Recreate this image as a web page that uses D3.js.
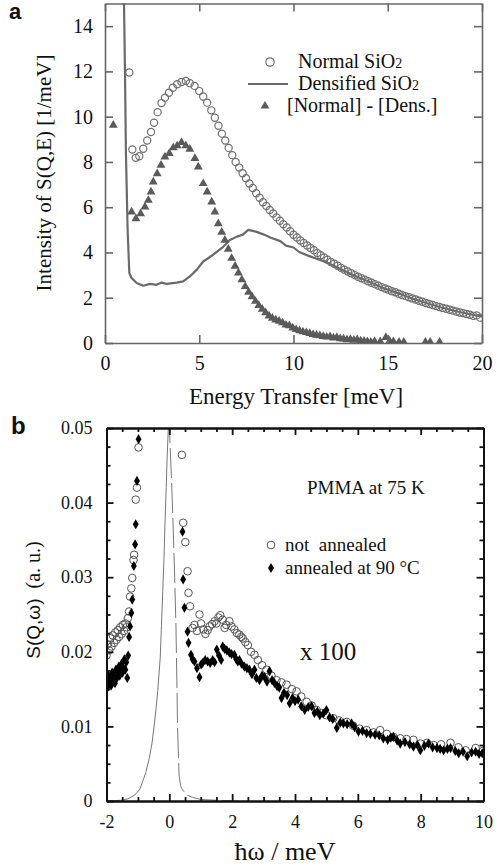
<!DOCTYPE html>
<html>
<head>
<meta charset="utf-8">
<script src="https://cdn.jsdelivr.net/npm/d3@7"></script>
<style>
  body { margin: 0; background: #fff; }
  svg text { font-family: "Liberation Serif", "Times New Roman", serif; fill: #111; }
</style>
</head>
<body>
<div id="chart"></div>
<script>
// ---- panel a : SiO2 ----
const aXTicks = [0, 5, 10, 15, 20];
const aYTicks = [0, 2, 4, 6, 8, 10, 12, 14];

const normalE = [1.29, 1.45, 1.63, 1.82, 2.03, 2.24, 2.44, 2.6, 2.79, 3.0, 3.18, 3.39, 3.6, 3.83, 4.06, 4.29, 4.5, 4.75, 5.0, 5.21, 5.42, 5.64, 5.83, 6.02, 6.2, 6.38, 6.56, 6.75, 6.93, 7.12, 7.3, 7.48, 7.66, 7.84, 8.02, 8.2, 8.38, 8.56, 8.74, 8.92, 9.1, 9.28, 9.46, 9.64, 9.82, 10.0, 10.18, 10.36, 10.54, 10.72, 10.9, 11.08, 11.26, 11.44, 11.62, 11.8, 11.98, 12.16, 12.34, 12.52, 12.7, 12.88, 13.06, 13.24, 13.42, 13.6, 13.78, 13.96, 14.14, 14.32, 14.5, 14.68, 14.86, 15.04, 15.22, 15.4, 15.58, 15.76, 15.94, 16.12, 16.3, 16.48, 16.66, 16.84, 17.02, 17.2, 17.38, 17.56, 17.74, 17.92, 18.1, 18.28, 18.46, 18.64, 18.82, 19.0, 19.18, 19.36, 19.54, 19.72, 19.9];
const normalS = [11.95, 8.55, 8.18, 8.25, 8.58, 8.95, 9.32, 9.73, 10.2, 10.6, 10.84, 11.06, 11.28, 11.43, 11.53, 11.58, 11.48, 11.36, 11.13, 10.89, 10.62, 10.28, 9.95, 9.6, 9.25, 8.95, 8.62, 8.3, 8.0, 7.75, 7.5, 7.28, 7.05, 6.85, 6.62, 6.42, 6.22, 6.05, 5.88, 5.72, 5.55, 5.4, 5.25, 5.1, 4.94, 4.78, 4.66, 4.53, 4.42, 4.31, 4.2, 4.1, 3.98, 3.88, 3.78, 3.68, 3.58, 3.5, 3.41, 3.32, 3.24, 3.16, 3.08, 3.0, 2.93, 2.86, 2.8, 2.73, 2.66, 2.6, 2.53, 2.47, 2.41, 2.35, 2.29, 2.24, 2.18, 2.12, 2.07, 2.02, 1.97, 1.92, 1.87, 1.82, 1.77, 1.72, 1.68, 1.63, 1.59, 1.55, 1.51, 1.47, 1.43, 1.39, 1.35, 1.32, 1.28, 1.25, 1.2, 1.22, 1.12];

const densE = [1.0, 1.06, 1.11, 1.2, 1.29, 1.41, 1.68, 2.03, 2.39, 2.74, 3.0, 3.27, 3.8, 4.15, 4.5, 4.86, 5.21, 5.74, 6.27, 6.63, 7.0, 7.3, 7.6, 8.0, 8.4, 8.8, 9.3, 9.6, 10.0, 10.3, 10.8, 11.3, 11.8, 12.3, 12.8, 13.3, 13.8, 14.3, 14.8, 15.3, 15.8, 16.3, 16.8, 17.3, 17.8, 18.3, 18.8, 19.3, 19.8, 20.0];
const densS = [15.5, 12.0, 8.4, 5.0, 3.09, 2.87, 2.65, 2.53, 2.61, 2.57, 2.67, 2.61, 2.67, 2.72, 2.94, 3.23, 3.6, 3.9, 4.25, 4.55, 4.7, 4.78, 5.0, 4.92, 4.8, 4.65, 4.5, 4.3, 4.22, 4.02, 3.85, 3.7, 3.55, 3.35, 3.15, 2.95, 2.78, 2.6, 2.42, 2.27, 2.12, 1.97, 1.83, 1.7, 1.58, 1.47, 1.37, 1.28, 1.2, 1.18];

const diffE = [0.44, 1.41, 1.64, 1.89, 2.12, 2.3, 2.44, 2.56, 2.77, 2.97, 3.18, 3.41, 3.62, 3.83, 4.06, 4.29, 4.5, 4.77, 4.95, 5.21, 5.42, 5.66, 5.83, 6.01, 6.19, 6.36, 6.54, 6.72, 6.9, 7.08, 7.26, 7.44, 7.62, 7.8, 7.98, 8.16, 8.34, 8.52, 8.7, 8.88, 9.06, 9.24, 9.42, 9.6, 9.78, 9.96, 10.14, 10.32, 10.5, 10.68, 10.86, 11.04, 11.22, 11.4, 11.58, 11.76, 11.94, 12.12, 12.3, 12.48, 12.66, 12.84, 13.02, 13.2, 13.38, 13.56, 13.74, 13.92, 14.1, 14.3, 14.6, 14.9, 15.1, 15.3, 15.6, 15.85, 17.0, 17.25, 17.75];
const diffS = [9.58, 5.75, 5.45, 5.67, 5.97, 6.26, 6.63, 7.07, 7.44, 7.81, 8.18, 8.33, 8.58, 8.67, 8.82, 8.67, 8.52, 8.11, 7.74, 7.0, 6.63, 6.19, 5.75, 5.23, 4.85, 4.5, 4.1, 3.7, 3.35, 3.05, 2.75, 2.45, 2.2, 2.0, 1.8, 1.62, 1.45, 1.3, 1.15, 1.05, 0.98, 0.92, 0.85, 0.75, 0.72, 0.62, 0.55, 0.5, 0.45, 0.42, 0.38, 0.33, 0.3, 0.28, 0.25, 0.22, 0.24, 0.18, 0.2, 0.15, 0.14, 0.1, 0.12, 0.08, 0.1, 0.05, 0.04, 0.02, 0.0, 0.03, 0.02, 0.2, 0.05, 0.02, 0.0, 0.0, 0.0, 0.0, 0.0];

const aLegend = ["Normal SiO", "Densified SiO", "[Normal] - [Dens.]"];

// ---- panel b : PMMA ----
const bXTicks = [-2, 0, 2, 4, 6, 8, 10];
const bYTicks = [0, 0.01, 0.02, 0.03, 0.04, 0.05];

const resW = [-2.0, -1.5, -1.32, -1.1, -0.95, -0.85, -0.75, -0.64, -0.55, -0.48, -0.42, -0.37, -0.29, -0.25, -0.21, -0.17, -0.14, -0.1, -0.07, -0.03, -0.01];
const resS = [0.0, 0.0001, 0.0003, 0.0008, 0.0015, 0.0026, 0.0038, 0.0057, 0.0078, 0.0102, 0.0125, 0.0147, 0.0192, 0.0235, 0.0281, 0.0325, 0.037, 0.042, 0.046, 0.0502, 0.052];
const resWr = [-0.01, 0.02, 0.07, 0.12, 0.17, 0.21, 0.24, 0.26, 0.29, 0.31, 0.36, 0.42, 0.55, 0.73, 1.0, 1.5, 2.2];
const resSr = [0.052, 0.048, 0.043, 0.037, 0.03, 0.0236, 0.016, 0.0102, 0.006, 0.0035, 0.002, 0.0015, 0.0008, 0.0005, 0.0002, 0.0001, 0.0];

const notAnnW = [-2.0, -1.96, -1.92, -1.88, -1.84, -1.8, -1.76, -1.72, -1.68, -1.64, -1.6, -1.56, -1.52, -1.48, -1.44, -1.4, -1.36, -1.32, -1.28, -1.25, -1.21, -1.18, -1.14, -1.12, -1.07, -1.03, -0.98, 0.40, 0.44, 0.51, 0.58, 0.61, 0.66, 0.74, 0.8, 0.88, 0.96, 1.01, 1.08, 1.15, 1.22, 1.28, 1.36, 1.44, 1.5, 1.56, 1.62, 1.7, 1.76, 1.81, 1.91, 1.98, 2.07, 2.15, 2.23, 2.29, 2.34, 2.42, 2.5, 2.6, 2.71, 2.82, 2.95, 3.09, 3.25, 3.41, 3.57, 3.73, 3.9, 4.05, 4.2, 4.37, 4.53, 4.69, 4.85, 5.0, 5.22, 5.4, 5.65, 5.85, 6.05, 6.28, 6.5, 6.71, 6.92, 7.13, 7.35, 7.55, 7.77, 7.99, 8.2, 8.41, 8.65, 8.95, 9.2, 9.43, 9.75, 9.98];
const notAnnS = [0.0195, 0.021, 0.0202, 0.0218, 0.0207, 0.0222, 0.0212, 0.0226, 0.0216, 0.0229, 0.022, 0.0233, 0.0224, 0.0236, 0.0228, 0.0238, 0.0233, 0.0245, 0.0254, 0.0274, 0.0285, 0.0299, 0.0323, 0.033, 0.0404, 0.042, 0.0474, 0.0464, 0.0373, 0.0347, 0.0308, 0.0279, 0.0261, 0.0232, 0.0236, 0.0228, 0.025, 0.0238, 0.023, 0.0224, 0.0229, 0.0234, 0.0237, 0.0241, 0.0238, 0.0246, 0.0249, 0.0243, 0.0232, 0.0236, 0.0241, 0.0234, 0.023, 0.0225, 0.0223, 0.022, 0.0218, 0.0213, 0.0209, 0.02, 0.0196, 0.0189, 0.0182, 0.0176, 0.0168, 0.0162, 0.0159, 0.0156, 0.015, 0.0147, 0.014, 0.0133, 0.0128, 0.0122, 0.0118, 0.0115, 0.0111, 0.0108, 0.0106, 0.0101, 0.0097, 0.0095, 0.0092, 0.0095, 0.009, 0.0086, 0.0084, 0.0083, 0.0082, 0.0077, 0.0078, 0.0075, 0.0076, 0.0078, 0.0072, 0.0068, 0.0071, 0.0067];

const annW = [-2.0, -1.97, -1.94, -1.91, -1.88, -1.85, -1.82, -1.79, -1.76, -1.73, -1.7, -1.67, -1.64, -1.61, -1.58, -1.55, -1.52, -1.49, -1.46, -1.43, -1.4, -1.37, -1.34, -1.31, -1.28, -1.25, -1.21, -1.18, -1.13, -1.09, -1.07, -1.03, -0.98, 0.42, 0.44, 0.48, 0.58, 0.61, 0.69, 0.74, 0.8, 0.88, 0.96, 1.01, 1.06, 1.14, 1.22, 1.3, 1.38, 1.44, 1.51, 1.58, 1.65, 1.7, 1.76, 1.83, 1.91, 1.98, 2.07, 2.13, 2.18, 2.23, 2.3, 2.39, 2.47, 2.55, 2.63, 2.71, 2.77, 2.87, 2.95, 3.03, 3.11, 3.19, 3.27, 3.35, 3.43, 3.5, 3.57, 3.65, 3.75, 3.83, 3.92, 4.0, 4.1, 4.2, 4.31, 4.42, 4.53, 4.62, 4.71, 4.79, 4.9, 5.0, 5.1, 5.2, 5.33, 5.44, 5.54, 5.66, 5.8, 5.9, 6.02, 6.15, 6.28, 6.4, 6.55, 6.68, 6.81, 6.95, 7.05, 7.13, 7.25, 7.35, 7.5, 7.65, 7.77, 7.9, 7.99, 8.12, 8.25, 8.38, 8.52, 8.62, 8.73, 8.85, 8.95, 9.1, 9.21, 9.35, 9.48, 9.62, 9.75, 9.86, 9.96];
const annS = [0.016, 0.0152, 0.0168, 0.0158, 0.0164, 0.0155, 0.0172, 0.016, 0.0167, 0.0158, 0.0176, 0.0165, 0.0172, 0.018, 0.0168, 0.0175, 0.0184, 0.0172, 0.0178, 0.019, 0.0176, 0.0186, 0.0165, 0.0195, 0.022, 0.0234, 0.0252, 0.027, 0.0315, 0.0344, 0.0371, 0.0429, 0.0485, 0.0361, 0.0297, 0.0259, 0.0227, 0.0212, 0.0196, 0.019, 0.0187, 0.0178, 0.0166, 0.0183, 0.0185, 0.0189, 0.0187, 0.0185, 0.0189, 0.0186, 0.0203, 0.0195, 0.0189, 0.0207, 0.0204, 0.0202, 0.0199, 0.0197, 0.0196, 0.019, 0.0187, 0.0189, 0.0184, 0.018, 0.0178, 0.0176, 0.017, 0.0176, 0.0165, 0.0162, 0.0168, 0.0166, 0.016, 0.0174, 0.0162, 0.0158, 0.0154, 0.0152, 0.0138, 0.0145, 0.0142, 0.0131, 0.0138, 0.0134, 0.0136, 0.0127, 0.0122, 0.0126, 0.0127, 0.0118, 0.012, 0.0115, 0.0117, 0.0122, 0.0112, 0.011, 0.0098, 0.0105, 0.0104, 0.0103, 0.0104, 0.0099, 0.0093, 0.0094, 0.0091, 0.009, 0.0089, 0.0088, 0.0084, 0.0082, 0.0085, 0.0086, 0.0081, 0.0077, 0.0079, 0.0076, 0.0073, 0.0075, 0.0068, 0.0074, 0.0077, 0.0072, 0.0071, 0.007, 0.0068, 0.007, 0.0071, 0.0067, 0.0064, 0.0066, 0.006, 0.0065, 0.0066, 0.0063, 0.0064];

const bLegend = ["not  annealed", "annealed at 90 °C"];

const SERIF = '"Liberation Serif", "Times New Roman", Times, serif';
const SANS = '"Liberation Sans", Arial, Helvetica, sans-serif';
const zip = (xs, ys) => xs.map((v, i) => [v, ys[i]]);

const svg = d3.select('#chart').append('svg')
  .attr('width', 503).attr('height', 868);

// boxed frame with inward ticks on all four sides
function drawFrame(g, x, y, xt, yt, o) {
  const [x0, x1] = x.range();
  const [y0, y1] = y.range();
  const ax = g.append('g').attr('class', 'axes');
  const style = s => s
    .attr('font-family', SERIF).attr('font-size', o.font)
    .call(s => s.selectAll('path,line').attr('stroke', o.color).attr('stroke-width', o.width))
    .call(s => s.selectAll('text').attr('fill', '#111').style('font-family', SERIF));

  if (o.xMinor) {
    ax.append('g').attr('transform', `translate(0,${y0})`)
      .call(d3.axisBottom(x).tickValues(o.xMinor).tickSizeInner(-4).tickSizeOuter(0).tickFormat(''))
      .call(style);
    ax.append('g').attr('transform', `translate(0,${y1})`)
      .call(d3.axisTop(x).tickValues(o.xMinor).tickSizeInner(-4).tickSizeOuter(0).tickFormat(''))
      .call(style);
  }
  if (o.yMinor) {
    ax.append('g').attr('transform', `translate(${x0},0)`)
      .call(d3.axisLeft(y).tickValues(o.yMinor).tickSizeInner(-4).tickSizeOuter(0).tickFormat(''))
      .call(style);
    ax.append('g').attr('transform', `translate(${x1},0)`)
      .call(d3.axisRight(y).tickValues(o.yMinor).tickSizeInner(-4).tickSizeOuter(0).tickFormat(''))
      .call(style);
  }
  ax.append('g').attr('transform', `translate(0,${y0})`)
    .call(d3.axisBottom(x).tickValues(xt).tickSizeInner(-o.tick).tickSizeOuter(0).tickPadding(o.xPad).tickFormat(o.xFmt))
    .call(style);
  ax.append('g').attr('transform', `translate(0,${y1})`)
    .call(d3.axisTop(x).tickValues(xt).tickSizeInner(-o.tick).tickSizeOuter(0).tickFormat(''))
    .call(style);
  ax.append('g').attr('transform', `translate(${x0},0)`)
    .call(d3.axisLeft(y).tickValues(yt).tickSizeInner(-o.tick).tickSizeOuter(0).tickPadding(o.yPad).tickFormat(o.yFmt))
    .call(style);
  ax.append('g').attr('transform', `translate(${x1},0)`)
    .call(d3.axisRight(y).tickValues(yt).tickSizeInner(-o.tick).tickSizeOuter(0).tickFormat(''))
    .call(style);
}

// ================= panel a =================
const aX = d3.scaleLinear().domain([0, 20]).range([105, 482]);
const aY = d3.scaleLinear().domain([0, 15]).range([343, 3.5]);
const ga = svg.append('g');

ga.append('clipPath').attr('id', 'clipA').append('rect')
  .attr('x', aX(0)).attr('y', aY(15)).attr('width', aX(20) - aX(0)).attr('height', aY(0) - aY(15));

const aData = ga.append('g').attr('clip-path', 'url(#clipA)');

aData.append('path')
  .datum(zip(densE, densS))
  .attr('fill', 'none').attr('stroke', '#6a6a6a').attr('stroke-width', 2.2)
  .attr('stroke-linejoin', 'round')
  .attr('d', d3.line().x(d => aX(d[0])).y(d => aY(d[1])));

aData.selectAll('circle.normal')
  .data(zip(normalE, normalS)).enter()
  .append('circle').attr('class', 'normal')
  .attr('cx', d => aX(d[0])).attr('cy', d => aY(d[1])).attr('r', 3.6)
  .attr('fill', 'none').attr('stroke', '#6f6f6f').attr('stroke-width', 1.2);

const tri = d3.symbol().type(d3.symbolTriangle).size(34);
aData.selectAll('path.diff')
  .data(zip(diffE, diffS)).enter()
  .append('path').attr('class', 'diff')
  .attr('transform', d => `translate(${aX(d[0])},${aY(d[1]) - 1})`)
  .attr('d', tri).attr('fill', '#5a5a5a');

drawFrame(ga, aX, aY, aXTicks, aYTicks, {
  color: '#666', width: 1.6, tick: 8, font: 20, xPad: 13, yPad: 12,
  xFmt: d3.format('d'), yFmt: d3.format('d')
});

ga.append('text').attr('x', 296).attr('y', 404).attr('text-anchor', 'middle')
  .attr('font-size', 23).text('Energy Transfer [meV]');
ga.append('text').attr('transform', 'translate(51,173) rotate(-90)').attr('text-anchor', 'middle')
  .attr('font-size', 21).text('Intensity of S(Q,E) [1/meV]');
ga.append('text').attr('x', 9).attr('y', 19).attr('font-size', 22).attr('font-weight', 'bold')
  .style('font-family', SANS).text('a');

// legend a
const la = ga.append('g');
la.append('circle').attr('cx', 270).attr('cy', 62).attr('r', 4.2)
  .attr('fill', 'none').attr('stroke', '#6f6f6f').attr('stroke-width', 1.2);
la.append('line').attr('x1', 248).attr('x2', 288).attr('y1', 84).attr('y2', 84)
  .attr('stroke', '#6a6a6a').attr('stroke-width', 2.2);
la.append('path').attr('transform', 'translate(265,106)').attr('d', tri).attr('fill', '#5a5a5a');
const laX = [298, 298, 287], laY = [68, 90, 112];
aLegend.forEach((t, i) => {
  const tx = la.append('text').attr('x', laX[i]).attr('y', laY[i]).attr('font-size', 20).text(t);
  if (i < 2) tx.append('tspan').attr('font-size', 14).text('2');
});

// ================= panel b =================
const bX = d3.scaleLinear().domain([-2, 10]).range([106.5, 483.5]);
const bY = d3.scaleLinear().domain([0, 0.05]).range([801, 428]);
const gb = svg.append('g');

gb.append('clipPath').attr('id', 'clipB').append('rect')
  .attr('x', bX(-2)).attr('y', bY(0.05)).attr('width', bX(10) - bX(-2)).attr('height', bY(0) - bY(0.05));
const bData = gb.append('g').attr('clip-path', 'url(#clipB)');

const bLine = d3.line().x(d => bX(d[0])).y(d => bY(d[1]));
bData.append('path').datum(zip(resW, resS))
  .attr('fill', 'none').attr('stroke', '#777').attr('stroke-width', 1).attr('d', bLine);
bData.append('path').datum(zip(resWr, resSr))
  .attr('fill', 'none').attr('stroke', '#777').attr('stroke-width', 1)
  .attr('stroke-dasharray', '30 5').attr('d', bLine);

bData.selectAll('circle.na')
  .data(zip(notAnnW, notAnnS)).enter()
  .append('circle').attr('class', 'na')
  .attr('cx', d => bX(d[0])).attr('cy', d => bY(d[1])).attr('r', 3.8)
  .attr('fill', 'none').attr('stroke', '#555').attr('stroke-width', 1);

const dia = d3.symbol().type(d3.symbolDiamond).size(30);
bData.selectAll('path.an')
  .data(zip(annW, annS)).enter()
  .append('path').attr('class', 'an')
  .attr('transform', d => `translate(${bX(d[0])},${bY(d[1])})`)
  .attr('d', dia).attr('fill', '#000');

const bXMinor = d3.range(-2, 10.01, 0.5).filter(v => !bXTicks.includes(v));
const bYMinor = d3.range(0, 0.0501, 0.0025).filter((v, i) => i % 4 !== 0);
drawFrame(gb, bX, bY, bXTicks, bYTicks, {
  color: '#111', width: 1.8, tick: 7, font: 18, xPad: 14, yPad: 14,
  xFmt: d => d3.format('d')(d).replace('−', '-'), yFmt: d => d === 0 ? '0' : d3.format('.2f')(d),
  xMinor: bXMinor, yMinor: bYMinor
});

gb.append('text').attr('x', 285).attr('y', 860).attr('text-anchor', 'middle')
  .attr('font-size', 26).text('ħω / meV');
const yt = gb.append('text').attr('transform', 'translate(40,600) rotate(-90)').attr('text-anchor', 'middle')
  .attr('font-size', 20);
yt.append('tspan').style('font-family', SANS).attr('font-size', 19).text('S(Q,ω)');
yt.append('tspan').text('\u00a0\u00a0(a. u.)');
gb.append('text').attr('x', 11).attr('y', 434).attr('font-size', 24).attr('font-weight', 'bold')
  .style('font-family', SANS).text('b');

gb.append('text').attr('x', 307).attr('y', 494).attr('font-size', 19).text('PMMA at 75 K');
gb.append('text').attr('x', 300).attr('y', 660).attr('font-size', 25).text('x 100');

const lb = gb.append('g');
lb.append('circle').attr('cx', 271).attr('cy', 545).attr('r', 3.8)
  .attr('fill', 'none').attr('stroke', '#555').attr('stroke-width', 1);
lb.append('path').attr('transform', 'translate(271,568)').attr('d', dia).attr('fill', '#000');
bLegend.forEach((t, i) => {
  lb.append('text').attr('x', 285).attr('y', 551 + i * 23).attr('font-size', 19)
    .style('white-space', 'pre').text(t);
});
</script>
</body>
</html>
